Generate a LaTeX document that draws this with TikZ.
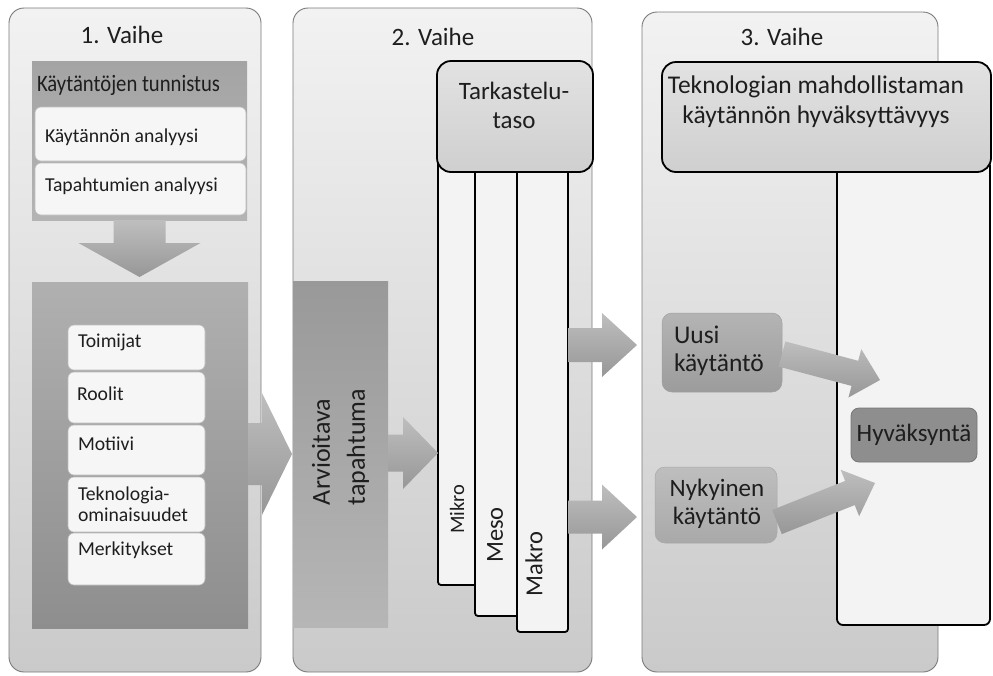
\documentclass[tikz,border=0pt]{standalone}
\usepackage{fontspec}
\setmainfont{Carlito}
\usetikzlibrary{calc,fit}

\definecolor{panelTop}{HTML}{F2F2F2}
\definecolor{panelBot}{HTML}{CACACA}
\definecolor{panelLine}{HTML}{7A7A7A}
\definecolor{boxTop}{HTML}{A4A4A4}
\definecolor{boxBot}{HTML}{B4B4B4}
\definecolor{lowTop}{HTML}{B0B0B0}
\definecolor{lowBot}{HTML}{8E8E8E}
\definecolor{evTop}{HTML}{999999}
\definecolor{evBot}{HTML}{B6B6B6}
\definecolor{itemFill}{HTML}{F6F6F6}
\definecolor{itemLine}{HTML}{BDBDBD}
\definecolor{colFill}{HTML}{F3F3F3}
\definecolor{headTop}{HTML}{E2E2E2}
\definecolor{headBot}{HTML}{CFCFCF}
\definecolor{arrTop}{HTML}{BEBEBE}
\definecolor{arrBot}{HTML}{979797}
\definecolor{newTop}{HTML}{B4B4B4}
\definecolor{newBot}{HTML}{9C9C9C}
\definecolor{newLine}{HTML}{A0A0A0}
\definecolor{curTop}{HTML}{BEBEBE}
\definecolor{curBot}{HTML}{A9A9A9}
\definecolor{curLine}{HTML}{A8A8A8}
\definecolor{accFill}{HTML}{8E8E8E}
\definecolor{accLine}{HTML}{777777}
\definecolor{ink}{HTML}{1E1E1E}

% block arrow: from, to, shaft half width, head half width, head length
\newcommand\blockarrow[5]{%
  \coordinate (ba-h) at ($(#2)!#5pt!(#1)$);
  \path[arrowshape] ($(#1)!#3pt!90:(#2)$) -- ($(ba-h)!#3pt!-90:(#1)$)
    -- ($(ba-h)!#4pt!-90:(#1)$) -- (#2) -- ($(ba-h)!#4pt!90:(#1)$)
    -- ($(ba-h)!#3pt!90:(#1)$) -- ($(#1)!#3pt!-90:(#2)$) -- cycle;
}

\begin{document}
\begin{tikzpicture}[x=1pt,y=-1pt,
  every node/.style={inner sep=0pt, outer sep=0pt, text=ink},
  panel/.style={draw=panelLine, line width=0.9pt, rounded corners=15pt,
    top color=panelTop, bottom color=panelBot},
  graybox/.style={draw=none, top color=boxTop, bottom color=boxBot},
  item/.style={draw=itemLine, line width=0.6pt, rounded corners=6pt, fill=itemFill},
  column/.style={draw=black, line width=1.8pt, rounded corners=3pt, fill=colFill},
  header/.style={draw=black, line width=1.8pt, rounded corners=14pt,
    top color=headTop, bottom color=headBot},
  arrowshape/.style={top color=arrTop, bottom color=arrBot, draw=none},
  ttl/.style={font=\fontsize{25}{29}\selectfont},
  small/.style={font=\fontsize{19.7}{21}\selectfont, align=left},
  mid/.style={font=\fontsize{25}{29}\selectfont, align=center},
]
\useasboundingbox (0,0) rectangle (993,675);

% ---------- phase panels ----------
\node[panel, fit={(9,8)(261,672)}] (p1) {};
\node[panel, fit={(293,8)(592,672)}] (p2) {};
\node[panel, fit={(642,12)(938,672)}] (p3) {};

\node[ttl] (t1) at (122,35) {1. Vaihe};
\node[ttl] (t2) at (433,37) {2. Vaihe};
\node[ttl] (t3) at (782,37) {3. Vaihe};

% ---------- phase 1 ----------
\node[graybox, fit={(32,61)(247,220)}] (kt) {};
\node[anchor=west, font=\fontsize{23.5}{27}\selectfont] (kttxt) at (37,85)
  {\scalebox{0.88}[1]{Käytäntöjen tunnistus}};
\node[item, fit={(35,107)(246,161)}] (ka) {};
\node[item, fit={(35,163)(246,215)}] (ta) {};
\node[small, anchor=west] (katxt) at (45,137) {Käytännön analyysi};
\node[small, anchor=west] (tatxt) at (45,186) {Tapahtumien analyysi};

\coordinate (dtip) at (139.5,277);
\blockarrow{kt.south}{dtip}{26}{61}{34}

\node[graybox, top color=lowTop, bottom color=lowBot, fit={(32,282)(248,628)}] (lb) {};
\node[item, fit={(68,325)(205,370)}] (i1) {};
\node[item, fit={(68,372)(205,423)}] (i2) {};
\node[item, fit={(68,425)(205,475)}] (i3) {};
\node[item, fit={(68,477)(205,532)}] (i4) {};
\node[item, fit={(68,533)(205,585)}] (i5) {};
\node[small, anchor=west] (i1t) at (78,342) {Toimijat};
\node[small, anchor=west] (i2t) at (77,394) {Roolit};
\node[small, anchor=west] (i3t) at (78,444) {Motiivi};
\node[small, anchor=west] (i4t) at (78,504.5) {Teknologia-\\ominaisuudet};
\node[small, anchor=west] (i5t) at (78,550) {Merkitykset};

% ---------- phase 2 ----------
\node[graybox, top color=evTop, bottom color=evBot, fit={(293,281)(388,627)}] (arv) {};
\node[rotate=90, anchor=west, align=left, font=\fontsize{26}{35}\selectfont]
  (arvtxt) at (340.5,505) {Arvioitava\\tapahtuma};

\coordinate (r1a) at (lb.east |- 0,454);
\coordinate (r1b) at (292,454);
\blockarrow{r1a}{r1b}{31}{61}{30}

\node[column, fit={(438,160)(568,585)}] (mikro) {};
\node[column, fit={(475,160)(568,616)}] (meso) {};
\node[column, fit={(517,160)(568,632)}] (makro) {};
\node[header, fit={(437,61)(593,172)}] (tt) {};
\node[mid] (tttxt) at (514,105) {Tarkastelu-\\taso};
\node[rotate=90, font=\fontsize{20.5}{24}\selectfont] (mikrotxt) at (457,509) {Mikro};
\node[rotate=90, font=\fontsize{24.5}{28}\selectfont] (mesotxt) at (495,535) {Meso};
\node[rotate=90, font=\fontsize{24.5}{28}\selectfont] (makrotxt) at (534,564) {Makro};

\coordinate (r2a) at (arv.east |- 0,453);
\coordinate (r2b) at (mikro.west |- 0,453);
\blockarrow{r2a}{r2b}{18.5}{36}{35}

% ---------- phase 3 ----------
\node[column, rounded corners=6pt, fit={(837,160)(990,625)}] (col3) {};
\node[header, fit={(662,62)(991,172)}] (tek) {};
\node[align=center, font=\fontsize{25.5}{30}\selectfont] (tektxt) at (816,102)
  {Teknologian mahdollistaman\\käytännön hyväksyttävyys};

\node[draw=newLine, line width=0.5pt, rounded corners=10pt, top color=newTop,
  bottom color=newBot, fit={(662,313)(782,392)}] (uusi) {};
\node[anchor=west, align=left, font=\fontsize{25.5}{28}\selectfont] (uusitxt)
  at (674,351) {Uusi\\käytäntö};
\node[draw=curLine, line width=0.5pt, rounded corners=10pt, top color=curTop,
  bottom color=curBot, fit={(655,467)(777,543)}] (nyky) {};
\node[mid, font=\fontsize{25}{28}\selectfont] (nykytxt) at (717,504) {Nykyinen\\käytäntö};
\node[draw=accLine, line width=0.8pt, rounded corners=8pt, fill=accFill,
  fit={(851,408)(977,462)}] (hyv) {};
\node[font=\fontsize{25}{27}\selectfont] (hyvtxt) at (914,435) {Hyväksyntä};

\coordinate (u1) at (568,345);
\coordinate (u2) at (637,345);
\blockarrow{u1}{u2}{17}{32}{35}
\coordinate (l1) at (568,517);
\coordinate (l2) at (637,517);
\blockarrow{l1}{l2}{16.5}{32.5}{35}

\coordinate (d1a) at (uusi.east |- 0,354);
\coordinate (d1b) at (880,380);
\blockarrow{d1a}{d1b}{13}{25}{26}
\coordinate (d2a) at (nyky.east |- 0,522);
\coordinate (d2b) at (875,483);
\blockarrow{d2a}{d2b}{13}{25}{27}
\end{tikzpicture}
\end{document}
